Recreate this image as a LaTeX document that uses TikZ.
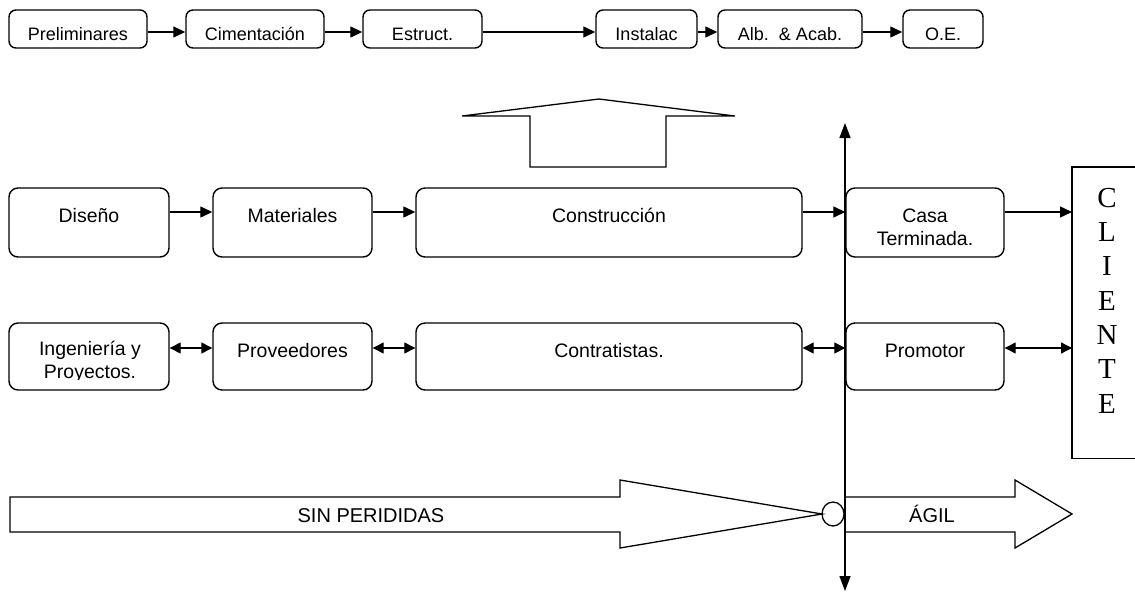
\documentclass[tikz,border=0pt]{standalone}
\usepackage{fontspec}
\setmainfont{Liberation Sans}
\newfontfamily\clientefont{Liberation Serif}
\usetikzlibrary{arrows.meta,calc,shapes.geometric}

% box from its corners (x1,y1)-(x2,y2), with its label set on a given baseline
% (for a label of several lines, the baseline of its last line)
\newcommand{\procbox}[8]{%
  \node[#2, minimum width={#5-#3}, minimum height={#6-#4}] (#1) at ({(#3+#5)/2},{(#4+#6)/2}) {};
  \node[#2txt] (#1-t) at ({(#3+#5)/2},#7) {#8};}

\begin{document}
\begin{tikzpicture}[x=1pt,y=-1pt,
  topbox/.style={draw, line width=1.4pt, rounded corners=7pt, inner sep=0pt},
  midbox/.style={draw, line width=1.4pt, rounded corners=9pt, inner sep=0pt},
  topboxtxt/.style={font=\fontsize{18}{21}\selectfont, anchor=base, inner sep=0pt},
  midboxtxt/.style={font=\fontsize{19.5}{22.5}\selectfont, anchor=base, inner sep=0pt, align=center},
  conn/.style={line width=1.3pt, -{Triangle[length=12pt,width=11pt]}},
  dconn/.style={line width=1.3pt, {Triangle[length=11pt,width=11pt]}-{Triangle[length=11pt,width=11pt]}},
  axis/.style={line width=1.3pt, {Triangle[length=15pt,width=11pt]}-{Triangle[length=15pt,width=11pt]}},
  blockarrow/.style={draw, line width=1.3pt, line join=miter},
  bigtxt/.style={font=\fontsize{20}{24}\selectfont, inner sep=0pt, anchor=base},
]
\useasboundingbox (0,0) rectangle (1135,592);
\fill[white] (0,0) rectangle (1135,592);

% ---- construction stages ----
\procbox{pre}{topbox}{9}{10}{147}{48}{40.5}{Preliminares}
\procbox{cim}{topbox}{186}{10}{324}{48}{40.5}{Cimentación}
\procbox{est}{topbox}{363}{10}{482}{48}{40.5}{Estruct.}
\procbox{ins}{topbox}{596}{10}{697}{48}{40.5}{Instalac}
\procbox{alb}{topbox}{718}{10}{862}{48}{40.5}{Alb.~~\& Acab.}
\procbox{oe}{topbox}{903}{10}{983}{48}{40.5}{O.E.}

\coordinate (row1) at (0,32);
\draw[conn] (pre.east |- row1) -- (cim.west |- row1);
\draw[conn] (cim.east |- row1) -- (est.west |- row1);
\draw[conn] (est.east |- row1) -- (ins.west |- row1);
\draw[conn] (ins.east |- row1) -- (alb.west |- row1);
\draw[conn] (alb.east |- row1) -- (oe.west |- row1);

% ---- upward block arrow ----
\draw[blockarrow] (530,167) -- (530,116) -- (462,116) -- (599,99) -- (735,116)
  -- (666,116) -- (666,167) -- cycle;

% ---- process row ----
\procbox{dis}{midbox}{9}{188}{169}{257}{222}{Diseño}
\procbox{mat}{midbox}{213}{188}{372}{257}{222}{Materiales}
\procbox{con}{midbox}{416}{188}{802}{257}{222}{Construcción}
\procbox{casa}{midbox}{846}{188}{1004}{257}{245}{Casa\\Terminada.}

% ---- actors row ----
\node[midbox, minimum width=160, minimum height=67] (ing) at (89,356.5) {};
\begin{scope}
  % the label's text frame cuts off the descenders of its last line
  \clip (0,300) rectangle (200,379.5);
  \node[midboxtxt] (ing-t) at (90,378) {Ingeniería y\\Proyectos.};
\end{scope}
\procbox{pro}{midbox}{213}{323}{372}{390}{357}{Proveedores}
\procbox{ctr}{midbox}{416}{323}{802}{390}{357}{Contratistas.}
\procbox{prm}{midbox}{846}{323}{1004}{390}{357}{Promotor}

% ---- client (its frame runs on past the right edge) ----
\node[minimum width=200pt, minimum height=291pt, inner sep=0pt, anchor=north west]
  (cli) at (1072,167) {};
\draw[line width=1.4pt] (cli.north east) -- (cli.north west) -- (cli.south west) -- (cli.south east);
\node[font=\clientefont\fontsize{29}{34.3}\selectfont, align=center, anchor=base, inner sep=0pt]
  (cli-t) at (1107,413) {C\\L\\I\\E\\N\\T\\E};

\coordinate (row2) at (0,212);
\draw[conn] (dis.east |- row2) -- (mat.west |- row2);
\draw[conn] (mat.east |- row2) -- (con.west |- row2);
\draw[conn] (con.east |- row2) -- (casa.west |- row2);
\draw[conn] (casa.east |- row2) -- (cli.west |- row2);

\coordinate (row3) at (0,348);
\draw[dconn] (ing.east |- row3) -- (pro.west |- row3);
\draw[dconn] (pro.east |- row3) -- (ctr.west |- row3);
\draw[dconn] (ctr.east |- row3) -- (prm.west |- row3);
\draw[dconn] (prm.east |- row3) -- (cli.west |- row3);

% ---- vertical axis ----
\coordinate (vtop) at (845,123);
\coordinate (vbot) at (845,591);
\draw[axis] (vtop) -- (vbot);

% ---- bottom block arrows ----
\draw[blockarrow] (10,497) -- (620,497) -- (620,480) -- (822,514) -- (620,548)
  -- (620,532) -- (10,532) -- cycle;
\node[draw, line width=1.3pt, ellipse, minimum width=22pt, minimum height=24pt, inner sep=0pt]
  (joint) at (833,514) {};
\draw[blockarrow] (845,497) -- (1015,497) -- (1015,480) -- (1072,514) -- (1015,548)
  -- (1015,532) -- (845,532);

\node[bigtxt] (sin) at (371,522) {SIN PERIDIDAS};
\node[bigtxt] (agil) at (932,522) {ÁGIL};
\end{tikzpicture}
\end{document}
